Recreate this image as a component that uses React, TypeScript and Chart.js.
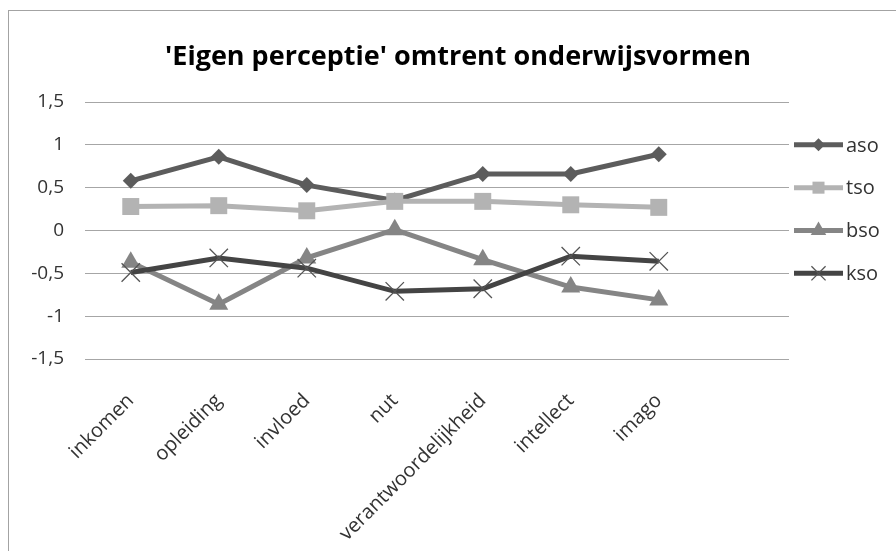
import React, { useEffect, useRef } from 'react';
import { Chart, registerables } from 'chart.js';

Chart.register(...registerables);

const titleText = "'Eigen perceptie' omtrent onderwijsvormen";
const categories = ['inkomen', 'opleiding', 'invloed', 'nut', 'verantwoordelijkheid', 'intellect', 'imago'];
const seriesNames = ['aso', 'tso', 'bso', 'kso'];
const aso = [0.58, 0.86, 0.53, 0.35, 0.66, 0.66, 0.89];
const tso = [0.28, 0.29, 0.23, 0.34, 0.34, 0.30, 0.27];
const bso = [-0.37, -0.86, -0.32, 0.01, -0.34, -0.66, -0.81];
const kso = [-0.49, -0.32, -0.44, -0.71, -0.68, -0.30, -0.36];
const yTicks = [-1.5, -1, -0.5, 0, 0.5, 1, 1.5];

const FONT = "'Open Sans', 'DejaVu Sans', sans-serif";
const TEXT = '#333333';

const styles = [
  { color: '#5c5c5c', pointStyle: 'rectRot', radius: 8, legendRadius: 6.5, pbw: 0 },
  { color: '#b3b3b3', pointStyle: 'rect', radius: 12, legendRadius: 8.5, pbw: 0 },
  { color: '#858585', pointStyle: 'triangle', radius: 11, legendRadius: 9, pbw: 0 },
  { color: '#444444', pointStyle: 'crossRot', radius: 13, legendRadius: 10, pbw: 1.3 },
];
const seriesValues = [aso, tso, bso, kso];

function drawMarker(ctx: CanvasRenderingContext2D, style: string, r: number, x: number, y: number, color: string) {
  ctx.save();
  ctx.fillStyle = color;
  ctx.beginPath();
  if (style === 'rectRot') {
    ctx.moveTo(x, y - r);
    ctx.lineTo(x + r, y);
    ctx.lineTo(x, y + r);
    ctx.lineTo(x - r, y);
    ctx.closePath();
    ctx.fill();
  } else if (style === 'rect') {
    const s = r * Math.SQRT1_2;
    ctx.rect(x - s, y - s, 2 * s, 2 * s);
    ctx.fill();
  } else if (style === 'triangle') {
    const a = (2 * Math.PI) / 3;
    ctx.moveTo(x, y - r);
    ctx.lineTo(x + Math.sin(a) * r, y - Math.cos(a) * r);
    ctx.lineTo(x + Math.sin(2 * a) * r, y - Math.cos(2 * a) * r);
    ctx.closePath();
    ctx.fill();
  } else {
    const d = r * Math.SQRT1_2;
    ctx.strokeStyle = '#555555';
    ctx.lineWidth = 1.3;
    ctx.moveTo(x - d, y - d);
    ctx.lineTo(x + d, y + d);
    ctx.moveTo(x + d, y - d);
    ctx.lineTo(x - d, y + d);
    ctx.stroke();
  }
  ctx.restore();
}

const titleAndLegendPlugin = {
  id: 'titleAndLegend',
  afterDraw(chart: any) {
    const ctx = chart.ctx;
    const y = chart.scales.y;
    ctx.save();
    // title
    ctx.fillStyle = '#000000';
    ctx.font = `bold 27px ${FONT}`;
    ctx.textAlign = 'center';
    ctx.textBaseline = 'middle';
    ctx.fillText(titleText, 449, 46);
    // legend
    seriesNames.forEach((name, i) => {
      const st = styles[i];
      const cy = y.getPixelForValue(1 - 0.5 * i);
      const x0 = 785;
      const x1 = 834;
      ctx.strokeStyle = st.color;
      ctx.lineWidth = 5;
      ctx.beginPath();
      ctx.moveTo(x0, cy);
      ctx.lineTo(x1, cy);
      ctx.stroke();
      drawMarker(ctx, st.pointStyle, st.legendRadius, (x0 + x1) / 2, cy, st.color);
      ctx.fillStyle = TEXT;
      ctx.font = `20px ${FONT}`;
      ctx.textAlign = 'left';
      ctx.textBaseline = 'middle';
      ctx.fillText(name, 837, cy + 1);
    });
    ctx.restore();
  },
};

export default function App() {
  const ref = useRef<HTMLCanvasElement | null>(null);

  useEffect(() => {
    if (!ref.current) return;
    const datasets = seriesNames.map((name, i) => ({
      label: name,
      data: seriesValues[i].map((v, j) => ({ x: j, y: v })),
      borderColor: styles[i].color,
      backgroundColor: styles[i].color,
      borderWidth: 5,
      pointStyle: styles[i].pointStyle as any,
      pointRadius: styles[i].radius,
      pointBorderWidth: styles[i].pbw,
      pointBorderColor: i === 3 ? '#555555' : styles[i].color,
      pointBackgroundColor: styles[i].color,
      tension: 0,
      fill: false,
      order: 3 - i,
    }));

    const chart = new Chart(ref.current, {
      type: 'line',
      data: { datasets },
      plugins: [titleAndLegendPlugin],
      options: {
        responsive: false,
        animation: false,
        devicePixelRatio: 1,
        layout: { padding: { top: 91, right: 107, bottom: 0, left: 0 } },
        plugins: {
          legend: { display: false },
          tooltip: { enabled: false },
          title: { display: false },
        },
        scales: {
          x: {
            type: 'linear',
            min: -0.52,
            max: 7.48,
            grid: { display: false },
            border: { display: false },
            afterBuildTicks: (s: any) => {
              s.ticks = categories.map((_, i) => ({ value: i }));
            },
            afterFit: (s: any) => {
              s.height = 192;
            },
            ticks: {
              autoSkip: false,
              minRotation: 45,
              maxRotation: 45,
              padding: 22,
              color: TEXT,
              font: { family: FONT, size: 20 },
              callback: (v: any) => categories[v] ?? '',
            },
          },
          y: {
            type: 'linear',
            min: -1.5,
            max: 1.5,
            afterBuildTicks: (s: any) => {
              s.ticks = yTicks.map((v) => ({ value: v }));
            },
            afterFit: (s: any) => {
              s.width = 76;
            },
            grid: { color: '#a6a6a6', lineWidth: 1, drawTicks: false },
            border: { display: false },
            ticks: {
              padding: 21,
              color: TEXT,
              font: { family: FONT, size: 19 },
              callback: (v: any) => String(v).replace('.', ','),
            },
          },
        },
      },
    });
    return () => chart.destroy();
  }, []);

  return (
    <div style={{ position: 'fixed', left: 0, top: 0, width: 896, height: 551, overflow: 'hidden', background: '#ffffff' }}>
      <div
        style={{
          position: 'absolute',
          left: 8,
          top: 10,
          width: 900,
          height: 560,
          borderTop: '1px solid #a3a3a3',
          borderLeft: '1px solid #a3a3a3',
        }}
      >
        <canvas ref={ref} width={887} height={540} style={{ position: 'absolute', left: 0, top: 0, width: 887, height: 540 }} />
      </div>
    </div>
  );
}
